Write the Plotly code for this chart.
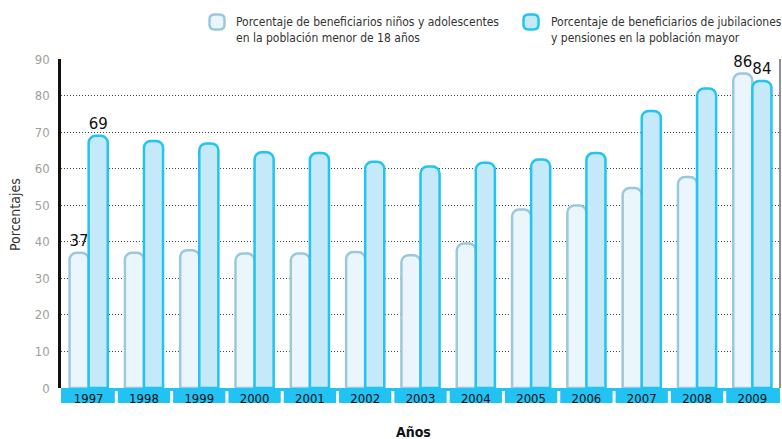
import plotly.graph_objects as go

YEARS = ["1997", "1998", "1999", "2000", "2001", "2002", "2003",
         "2004", "2005", "2006", "2007", "2008", "2009"]
NINOS = [37, 37, 37.7, 36.8, 36.8, 37.2, 36.3, 39.5, 48.8, 49.9, 54.7, 57.7, 86]
JUBILACIONES = [69, 67.6, 66.9, 64.5, 64.3, 61.9, 60.6, 61.6, 62.5, 64.3, 75.8, 81.9, 84]
LABELED = [0, 12]  # years whose values are printed on top

NAME_NINOS = "Porcentaje de beneficiarios niños y adolescentes<br>en la población menor de 18 años"
NAME_JUB = "Porcentaje de beneficiarios de jubilaciones<br>y pensiones en la población mayor"

FONT = "DejaVu Sans Condensed, Liberation Sans Narrow, sans-serif"
NINOS_FILL, NINOS_LINE = "#eaf6fc", "#9cc8dc"
JUB_FILL, JUB_LINE = "#c5e9f8", "#22c4f0"
BAND = "#22c3f2"

W, H = 782, 439
L, R, T, B = 61, 2, 59, 51


def px_x(x):
    return (x - L) / (W - L - R)


def px_y(y):
    return (H - B - y) / (H - T - B)


def rounded_box(cx, cy, size, r):
    """Rounded square legend swatch, given in pixels, returned as a paper-coord path."""
    x0, x1 = px_x(cx - size / 2), px_x(cx + size / 2)
    y0, y1 = px_y(cy + size / 2), px_y(cy - size / 2)
    rx = r / (W - L - R)
    ry = r / (H - T - B)
    return (f"M{x0 + rx},{y1} L{x1 - rx},{y1} Q{x1},{y1} {x1},{y1 - ry} "
            f"L{x1},{y0 + ry} Q{x1},{y0} {x1 - rx},{y0} L{x0 + rx},{y0} "
            f"Q{x0},{y0} {x0},{y0 + ry} L{x0},{y1 - ry} Q{x0},{y1} {x0 + rx},{y1} Z")


def labels(vals):
    return [f"{v:.0f}" if i in LABELED else "" for i, v in enumerate(vals)]


fig = go.Figure()
for vals, name, fill, line in [(NINOS, NAME_NINOS, NINOS_FILL, NINOS_LINE),
                               (JUBILACIONES, NAME_JUB, JUB_FILL, JUB_LINE)]:
    fig.add_trace(go.Bar(
        x=YEARS, y=vals, name=name,
        marker=dict(color=fill, line=dict(color=line, width=2.5), cornerradius=7),
        text=labels(vals), textposition="outside", cliponaxis=False,
        textfont=dict(family=FONT, size=17, color="#111"),
    ))

shapes = [
    # blue year band under the axis
    dict(type="rect", xref="paper", yref="paper", x0=0, x1=1, y0=px_y(403), y1=px_y(388),
         fillcolor=BAND, line=dict(width=0), layer="below"),
    # right border
    dict(type="line", xref="paper", yref="paper", x0=1, x1=1, y0=0, y1=1,
         line=dict(color="#222", width=1)),
]
for i in range(len(YEARS) - 1):
    shapes.append(dict(type="line", xref="x", yref="paper", x0=i + 0.5, x1=i + 0.5,
                       y0=px_y(403), y1=px_y(391), line=dict(color="white", width=3)))
shapes.append(dict(type="path", xref="paper", yref="paper", path=rounded_box(217, 22, 15, 5),
                   fillcolor=NINOS_FILL, line=dict(color=NINOS_LINE, width=2.5)))
shapes.append(dict(type="path", xref="paper", yref="paper", path=rounded_box(531, 22, 15, 5),
                   fillcolor=JUB_FILL, line=dict(color=JUB_LINE, width=2.5)))

annotations = [
    dict(text=NAME_NINOS, x=px_x(234), y=px_y(30), xref="paper", yref="paper",
         xanchor="left", yanchor="middle", align="left", showarrow=False,
         font=dict(family=FONT, size=12, color="#333")),
    dict(text=NAME_JUB, x=px_x(549), y=px_y(30), xref="paper", yref="paper",
         xanchor="left", yanchor="middle", align="left", showarrow=False,
         font=dict(family=FONT, size=12, color="#333")),
    dict(text="Porcentajes", x=px_x(15), y=px_y(215), xref="paper", yref="paper",
         xanchor="center", yanchor="middle",
         textangle=-90, showarrow=False, font=dict(family=FONT, size=14, color="#333")),
    dict(text="<b>Años</b>", x=px_x(413), y=px_y(432), xref="paper", yref="paper",
         xanchor="center", yanchor="middle",
         showarrow=False, font=dict(family=FONT, size=14, color="#111")),
]

fig.update_layout(
    width=W, height=H,
    margin=dict(l=L, r=R, t=T, b=B),
    plot_bgcolor="white", paper_bgcolor="white",
    barmode="group", bargap=0.31, bargroupgap=0,
    showlegend=False,
    shapes=shapes, annotations=annotations,
    font=dict(family=FONT),
)
fig.update_xaxes(
    range=[-0.5, len(YEARS) - 0.5], showgrid=False, showline=False, zeroline=False,
    tickfont=dict(family=FONT, size=13, color="#111"), ticks="", ticklabelstandoff=1,
)
fig.update_yaxes(
    range=[0, 90], dtick=10, showgrid=True, gridcolor="#444", griddash="1px,2px", gridwidth=1,
    showline=True, linecolor="#111", linewidth=2.5, zeroline=False,
    tickfont=dict(family=FONT, size=13, color="#a0a0a0"), ticks="", ticklabelstandoff=6,
)

fig.write_html("out.html", config={"displayModeBar": False},
               post_script="document.body.style.margin='0';"
                           "document.body.style.overflow='hidden';")
